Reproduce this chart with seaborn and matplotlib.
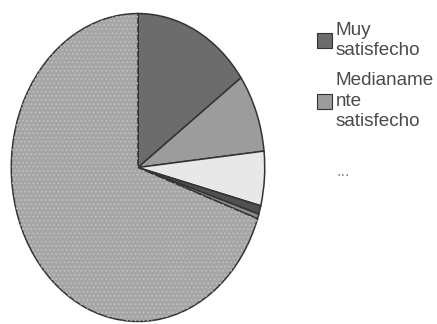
import matplotlib
matplotlib.use("Agg")
import matplotlib.pyplot as plt
import seaborn as sns
from matplotlib.patches import Patch

sns.set_theme(style="white")
plt.rcParams['font.family'] = ['Liberation Sans', 'DejaVu Sans']

# Data (percent shares, read clockwise from 12 o'clock)
categories = ["Muy satisfecho", "Medianamente satisfecho", "...", "cat4", "cat5", "cat6"]
values = [15.1, 8.2, 5.7, 0.9, 0.5, 69.6]
legend_labels = ["Muy\nsatisfecho", "Medianame\nnte\nsatisfecho"]
extra_label = "..."

colors = ["#6c6c6c", "#9c9c9c", "#e8e8e8", "#505050", "#8a8a8a", "#a6a6a6"]

fig = plt.figure(figsize=(4.37, 3.24), dpi=100)
fig.patch.set_facecolor("white")
ax = fig.add_axes([10/437, 1/324, 256/437, 311/324])

wedges, _ = ax.pie(values, colors=colors, startangle=90, counterclock=False,
                   wedgeprops=dict(edgecolor="#333333", linewidth=1.1))
# stipple texture on the largest slice
plt.rcParams['hatch.linewidth'] = 0.6
tex, _ = ax.pie(values, colors=["none"] * len(values), startangle=90, counterclock=False,
                wedgeprops=dict(linewidth=0))
tex[5].set_hatch("....")
tex[5].set_edgecolor("#c4c4c4")
for i in range(5):
    tex[i].set_visible(False)
ax.set_aspect("auto")
ax.set_xlim(-1.01, 1.01)
ax.set_ylim(-1.01, 1.01)
ax.axis("off")

handles = [Patch(facecolor=colors[0], edgecolor="#333333", linewidth=0.8),
           Patch(facecolor=colors[1], edgecolor="#333333", linewidth=0.8)]
leg = fig.legend(handles, legend_labels, loc="upper left",
                 bbox_to_anchor=(317/437, 1 - 22/324),
                 frameon=False, fontsize=13.6, labelcolor="#4a4a4a",
                 handlelength=0.8, handleheight=0.85, handletextpad=0.2,
                 labelspacing=0.7, borderpad=0, borderaxespad=0)
for t in leg.get_texts():
    t.set_linespacing(1.25)

fig.text(337/437, 1 - 176/324, extra_label, fontsize=12, color="#888888",
         ha="left", va="baseline")

fig.savefig("out.png", dpi=100, facecolor="white")
